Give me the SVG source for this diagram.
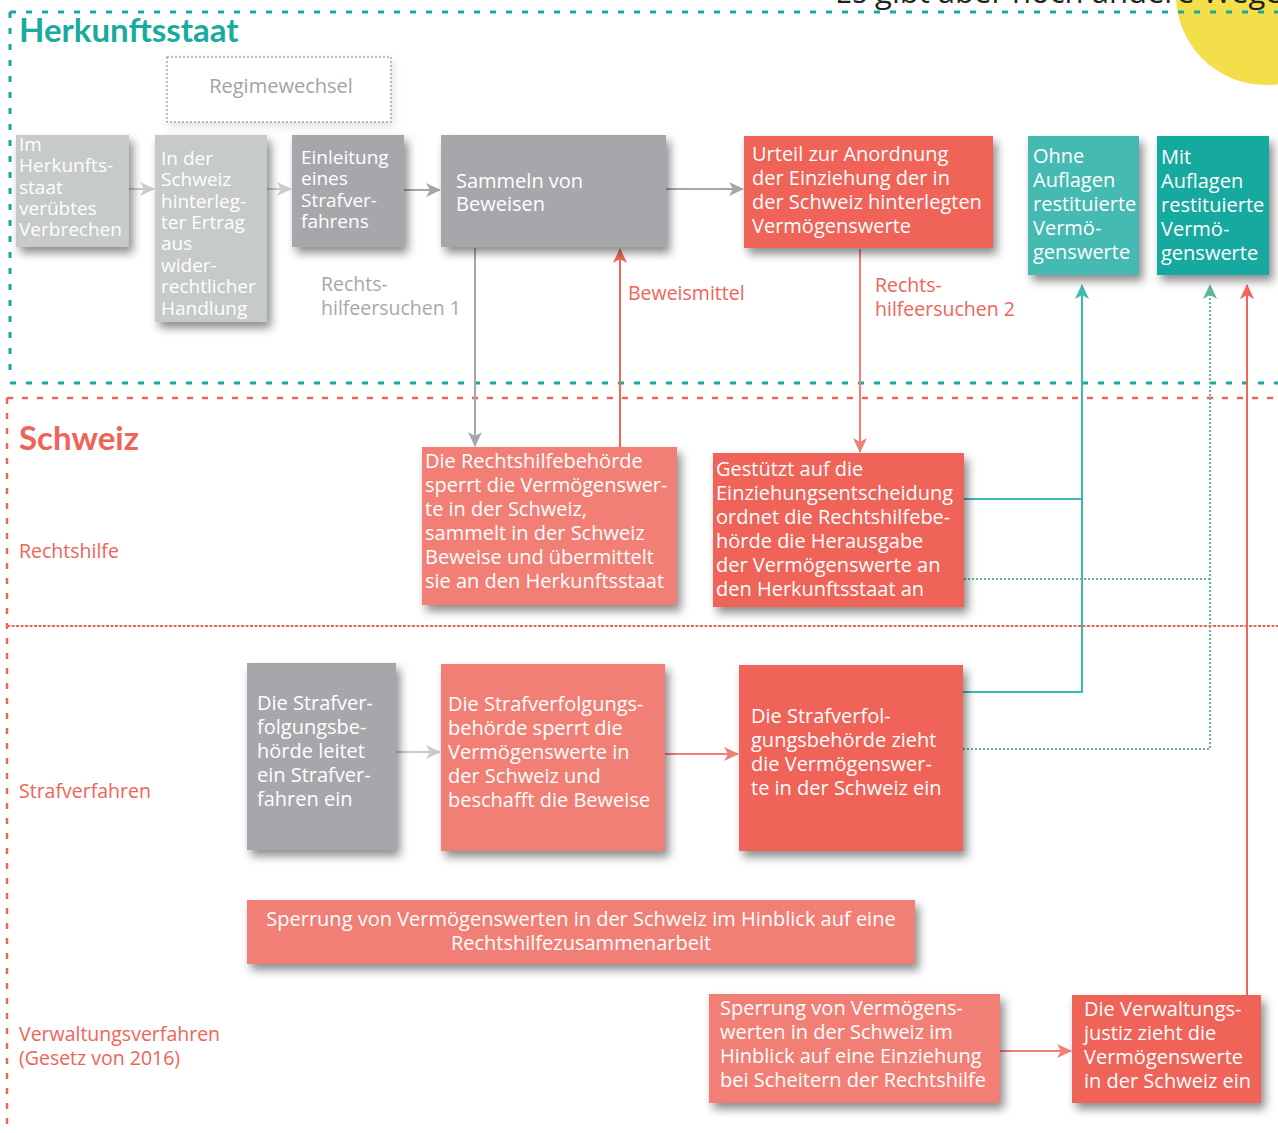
<svg xmlns="http://www.w3.org/2000/svg" width="1278" height="1133" viewBox="0 0 1278 1133">
<defs>
<filter id="sh" x="-20%" y="-20%" width="150%" height="150%">
<feDropShadow dx="4" dy="6" stdDeviation="5" flood-color="#000" flood-opacity="0.45"/>
</filter>
<filter id="shl" x="-20%" y="-20%" width="150%" height="150%">
<feDropShadow dx="2" dy="4" stdDeviation="5" flood-color="#000" flood-opacity="0.12"/>
</filter>
<marker id="aLg" markerUnits="userSpaceOnUse" markerWidth="16" markerHeight="16" refX="14" refY="8" orient="auto"><path d="M0,1 L15,8 L0,15 L4,8 z" fill="#c8cccb"/></marker>
<marker id="aG" markerUnits="userSpaceOnUse" markerWidth="16" markerHeight="16" refX="14" refY="8" orient="auto"><path d="M0,1 L15,8 L0,15 L4,8 z" fill="#a6a7aa"/></marker>
<marker id="aR" markerUnits="userSpaceOnUse" markerWidth="16" markerHeight="16" refX="14" refY="8" orient="auto"><path d="M0,1 L15,8 L0,15 L4,8 z" fill="#f0665b"/></marker>
<marker id="aS" markerUnits="userSpaceOnUse" markerWidth="16" markerHeight="16" refX="14" refY="8" orient="auto"><path d="M0,1 L15,8 L0,15 L4,8 z" fill="#f27f76"/></marker>
<marker id="aT" markerUnits="userSpaceOnUse" markerWidth="16" markerHeight="16" refX="14" refY="8" orient="auto"><path d="M0,1 L15,8 L0,15 L4,8 z" fill="#3dbab0"/></marker>
<marker id="aGr" markerUnits="userSpaceOnUse" markerWidth="16" markerHeight="16" refX="14" refY="8" orient="auto"><path d="M0,1 L15,8 L0,15 L4,8 z" fill="#5fb796"/></marker>
</defs>
<style>
text{font-family:"Open Sans","Noto Sans","Liberation Sans",sans-serif;}
.hd{font-family:Lato,"Open Sans",sans-serif;font-weight:bold;font-size:33px;}
.bt{fill:#fff;font-size:20px;}
.bts{fill:#fff;font-size:19px;}
.lg{fill:#c6cac9;}
.gr{fill:#a6a7aa;}
.rd{fill:#ef6358;}
.sa{fill:#f27f76;}
.tl{fill:#45bab3;}
.td{fill:#17a99f;}
.lab{font-size:19.5px;}
.red{fill:#ef6358;}
.gray{fill:#a6a8ab;}
</style>
<rect width="1278" height="1133" fill="#fff"/>
<circle cx="1266" cy="-5" r="90" fill="#f2df4a"/>
<text x="835" y="3" font-size="31" fill="#222">Es gibt aber noch andere Wege</text>

<!-- section borders -->
<g fill="none">
<path d="M10,12 H1278 M10,12 V380 M10,383 H1278" stroke="#17a99f" stroke-width="3" stroke-dasharray="6 10"/>
<path d="M7,398 H1278 M7,398 V1133" stroke="#ef6358" stroke-width="2.5" stroke-dasharray="6 9"/>
<path d="M7,626 H1278" stroke="#ef6358" stroke-width="2" stroke-dasharray="3 1.5"/>
</g>

<text x="19" y="42" class="hd" fill="#1aab9f">Herkunftsstaat</text>
<text x="19" y="450" class="hd" fill="#ef6358">Schweiz</text>
<text x="19" y="558" class="lab red">Rechtshilfe</text>
<text x="19" y="798" class="lab red">Strafverfahren</text>
<text class="lab red"><tspan x="19" y="1041">Verwaltungsverfahren</tspan><tspan x="19" y="1065">(Gesetz von 2016)</tspan></text>

<!-- connectors -->
<g id="connectors" fill="none" stroke-width="2">
<line x1="129" y1="189" x2="154" y2="189" stroke="#c8cccb" marker-end="url(#aLg)"/>
<line x1="267" y1="189" x2="291" y2="189" stroke="#c8cccb" marker-end="url(#aLg)"/>
<line x1="404" y1="190" x2="440" y2="190" stroke="#a6a7aa" marker-end="url(#aG)"/>
<line x1="666" y1="189" x2="743" y2="189" stroke="#a6a7aa" marker-end="url(#aG)"/>
<line x1="475" y1="248" x2="475" y2="446" stroke="#a6a7aa" marker-end="url(#aG)"/>
<line x1="620" y1="447" x2="620" y2="249" stroke="#f0665b" marker-end="url(#aR)"/>
<line x1="860" y1="249" x2="860" y2="452" stroke="#f27f76" marker-end="url(#aS)"/>
<path d="M964,499 H1082 M963,692 H1082 V285" stroke="#3dbab0" marker-end="url(#aT)"/>
<path d="M964,579 H1210 M963,749 H1210 V285" stroke="#5fb796" stroke-dasharray="2 2" marker-end="url(#aGr)"/>
<line x1="1247" y1="995" x2="1247" y2="285" stroke="#f0665b" marker-end="url(#aR)"/>
<line x1="396" y1="752" x2="440" y2="752" stroke="#c8cccb" marker-end="url(#aLg)"/>
<line x1="665" y1="754" x2="738" y2="754" stroke="#f27f76" marker-end="url(#aS)"/>
<line x1="1000" y1="1051" x2="1071" y2="1051" stroke="#f27f76" marker-end="url(#aS)"/>
</g>

<text class="lab gray"><tspan x="321" y="291">Rechts-</tspan><tspan x="321" y="315">hilfeersuchen 1</tspan></text>
<text x="628" y="300" class="lab red">Beweismittel</text>
<text class="lab red"><tspan x="875" y="292">Rechts-</tspan><tspan x="875" y="316">hilfeersuchen 2</tspan></text>

<!-- nodes -->
<g id="regimewechsel">
<rect x="167" y="57" width="224" height="65" fill="#fff" stroke="#a6a8ab" stroke-width="1.5" stroke-dasharray="2 2" filter="url(#shl)"/>
<text x="281" y="93" text-anchor="middle" font-size="20" fill="#a0a4a8">Regimewechsel</text>
</g>
<g id="n-verbrechen">
<rect x="16" y="135" width="113" height="112" class="lg" filter="url(#sh)"/>
<text class="bts"><tspan x="19" y="151">Im</tspan><tspan x="19" y="172">Herkunfts-</tspan><tspan x="19" y="194">staat</tspan><tspan x="19" y="215">verübtes</tspan><tspan x="19" y="236">Verbrechen</tspan></text>
</g>
<g id="n-ertrag">
<rect x="155" y="135" width="112" height="187" class="lg" filter="url(#sh)"/>
<text class="bts"><tspan x="161" y="165">In der</tspan><tspan x="161" y="186">Schweiz</tspan><tspan x="161" y="208">hinterleg-</tspan><tspan x="161" y="229">ter Ertrag</tspan><tspan x="161" y="250">aus</tspan><tspan x="161" y="272">wider-</tspan><tspan x="161" y="293">rechtlicher</tspan><tspan x="161" y="315">Handlung</tspan></text>
</g>
<g id="n-einleitung">
<rect x="292" y="135" width="112" height="112" class="gr" filter="url(#sh)"/>
<text class="bts"><tspan x="301" y="164">Einleitung</tspan><tspan x="301" y="185">eines</tspan><tspan x="301" y="207">Strafver-</tspan><tspan x="301" y="228">fahrens</tspan></text>
</g>
<g id="n-sammeln">
<rect x="441" y="135" width="225" height="112" class="gr" filter="url(#sh)"/>
<text class="bt"><tspan x="456" y="188">Sammeln von</tspan><tspan x="456" y="211">Beweisen</tspan></text>
</g>
<g id="n-urteil">
<rect x="744" y="136" width="249" height="112" class="rd" filter="url(#sh)"/>
<text class="bt"><tspan x="752" y="161">Urteil zur Anordnung</tspan><tspan x="752" y="185">der Einziehung der in</tspan><tspan x="752" y="209">der Schweiz hinterlegten</tspan><tspan x="752" y="233">Vermögenswerte</tspan></text>
</g>
<g id="n-ohne">
<rect x="1028" y="136" width="111" height="139" class="tl" filter="url(#sh)"/>
<text class="bt"><tspan x="1033" y="163">Ohne</tspan><tspan x="1033" y="187">Auflagen</tspan><tspan x="1033" y="211">restituierte</tspan><tspan x="1033" y="235">Vermö-</tspan><tspan x="1033" y="259">genswerte</tspan></text>
</g>
<g id="n-mit">
<rect x="1157" y="136" width="112" height="139" class="td" filter="url(#sh)"/>
<text class="bt"><tspan x="1161" y="164">Mit</tspan><tspan x="1161" y="188">Auflagen</tspan><tspan x="1161" y="212">restituierte</tspan><tspan x="1161" y="236">Vermö-</tspan><tspan x="1161" y="260">genswerte</tspan></text>
</g>
<g id="n-rechtshilfebehoerde">
<rect x="422" y="447" width="255" height="158" class="sa" filter="url(#sh)"/>
<text class="bt"><tspan x="425" y="468">Die Rechtshilfebehörde</tspan><tspan x="425" y="492">sperrt die Vermögenswer-</tspan><tspan x="425" y="516">te in der Schweiz,</tspan><tspan x="425" y="540">sammelt in der Schweiz</tspan><tspan x="425" y="564">Beweise und übermittelt</tspan><tspan x="425" y="588">sie an den Herkunftsstaat</tspan></text>
</g>
<g id="n-gestuetzt">
<rect x="713" y="453" width="251" height="154" class="rd" filter="url(#sh)"/>
<text class="bt"><tspan x="716" y="476">Gestützt auf die</tspan><tspan x="716" y="500">Einziehungsentscheidung</tspan><tspan x="716" y="524">ordnet die Rechtshilfebe-</tspan><tspan x="716" y="548">hörde die Herausgabe</tspan><tspan x="716" y="572">der Vermögenswerte an</tspan><tspan x="716" y="596">den Herkunftsstaat an</tspan></text>
</g>
<g id="n-strafverfahren-ein">
<rect x="247" y="663" width="149" height="187" class="gr" filter="url(#sh)"/>
<text class="bt"><tspan x="257" y="710">Die Strafver-</tspan><tspan x="257" y="734">folgungsbe-</tspan><tspan x="257" y="758">hörde leitet</tspan><tspan x="257" y="782">ein Strafver-</tspan><tspan x="257" y="806">fahren ein</tspan></text>
</g>
<g id="n-sperrt">
<rect x="441" y="664" width="224" height="187" class="sa" filter="url(#sh)"/>
<text class="bt"><tspan x="448" y="711">Die Strafverfolgungs-</tspan><tspan x="448" y="735">behörde sperrt die</tspan><tspan x="448" y="759">Vermögenswerte in</tspan><tspan x="448" y="783">der Schweiz und</tspan><tspan x="448" y="807">beschafft die Beweise</tspan></text>
</g>
<g id="n-zieht">
<rect x="739" y="665" width="224" height="186" class="rd" filter="url(#sh)"/>
<text class="bt"><tspan x="751" y="723">Die Strafverfol-</tspan><tspan x="751" y="747">gungsbehörde zieht</tspan><tspan x="751" y="771">die Vermögenswer-</tspan><tspan x="751" y="795">te in der Schweiz ein</tspan></text>
</g>
<g id="n-sperrung-rh">
<rect x="247" y="900" width="668" height="64" class="sa" filter="url(#sh)"/>
<text class="bt" text-anchor="middle"><tspan x="581" y="926">Sperrung von Vermögenswerten in der Schweiz im Hinblick auf eine</tspan><tspan x="581" y="950">Rechtshilfezusammenarbeit</tspan></text>
</g>
<g id="n-sperrung-ez">
<rect x="709" y="994" width="291" height="109" class="sa" filter="url(#sh)"/>
<text class="bt"><tspan x="720" y="1015">Sperrung von Vermögens-</tspan><tspan x="720" y="1039">werten in der Schweiz im</tspan><tspan x="720" y="1063">Hinblick auf eine Einziehung</tspan><tspan x="720" y="1087">bei Scheitern der Rechtshilfe</tspan></text>
</g>
<g id="n-verwaltungsjustiz">
<rect x="1072" y="995" width="189" height="108" class="rd" filter="url(#sh)"/>
<text class="bt"><tspan x="1084" y="1016">Die Verwaltungs-</tspan><tspan x="1084" y="1040">justiz zieht die</tspan><tspan x="1084" y="1064">Vermögenswerte</tspan><tspan x="1084" y="1088">in der Schweiz ein</tspan></text>
</g>
</svg>
